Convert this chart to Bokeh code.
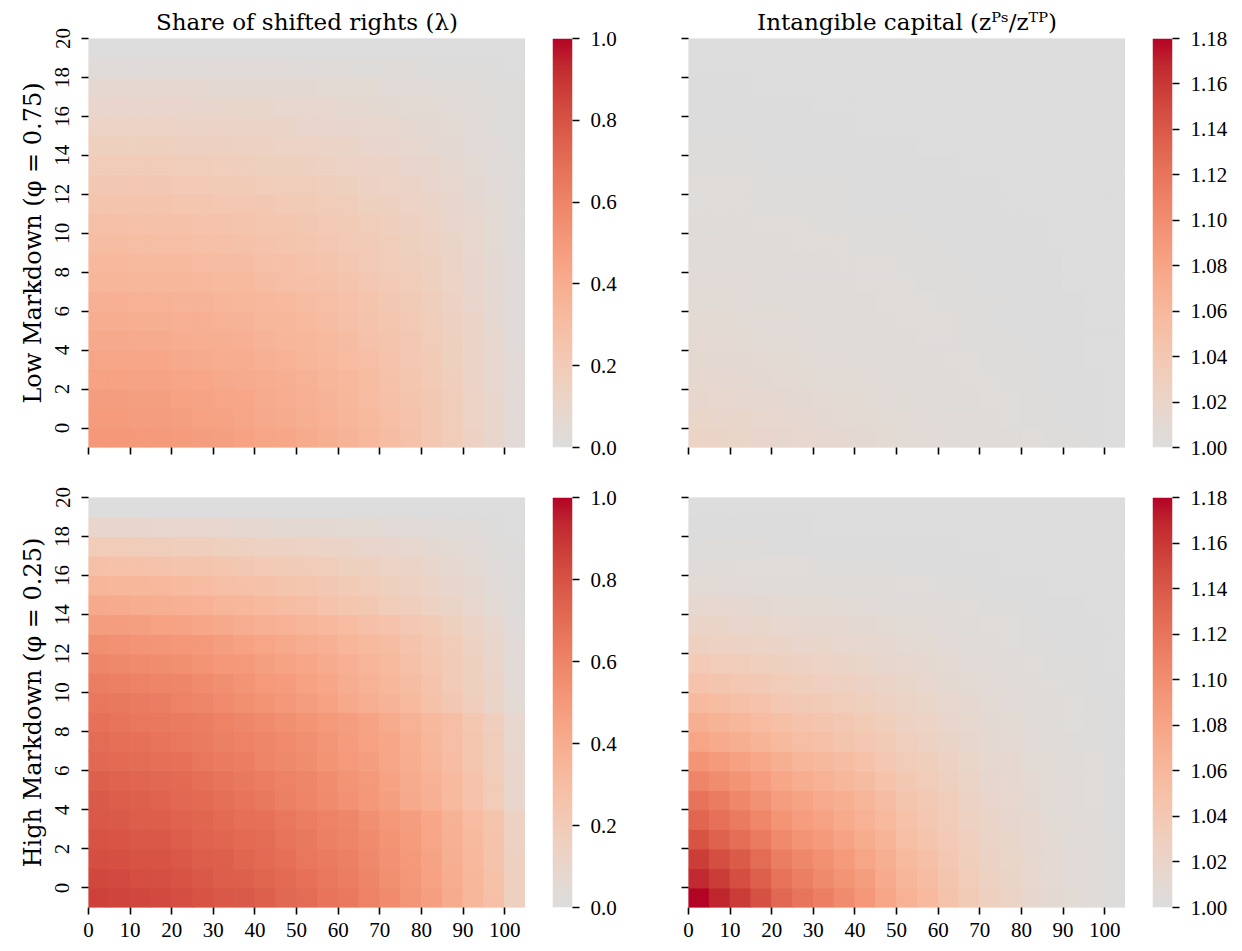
import numpy as np
from bokeh.plotting import figure
from bokeh.models import (LinearColorMapper, FixedTicker, PrintfTickFormatter,
                          ColumnDataSource, Range1d)
from bokeh.transform import transform
from bokeh.layouts import column, row
from bokeh.embed import file_html
from bokeh.resources import INLINE

# ---------------- grid (cell edges) and ticks ----------------
x_edges = [0, 5, 10, 15, 20, 25, 30, 35, 40, 45, 50, 55, 60, 65, 70, 75, 80, 85, 90, 95, 100, 105]
y_edges = [-1, 0, 1, 2, 3, 4, 5, 6, 7, 8, 9, 10, 11, 12, 13, 14, 15, 16, 17, 18, 19, 20]
x_ticks = [0, 10, 20, 30, 40, 50, 60, 70, 80, 90, 100]
y_ticks = [0, 2, 4, 6, 8, 10, 12, 14, 16, 18, 20]
lam_ticks = [0.0, 0.2, 0.4, 0.6, 0.8, 1.0]
z_ticks = [1.00, 1.02, 1.04, 1.06, 1.08, 1.10, 1.12, 1.14, 1.16, 1.18]

# ---------------- values (rows from bottom y=-1 to top y=19) ----------------
lam_low = [
    [.51,.51,.50,.50,.49,.48,.47,.46,.44,.43,.41,.39,.36,.33,.30,.27,.23,.19,.14,.09,.04],
    [.49,.49,.48,.48,.47,.46,.45,.44,.42,.41,.39,.37,.35,.32,.29,.26,.22,.18,.13,.09,.04],
    [.48,.48,.47,.47,.46,.45,.44,.43,.41,.40,.38,.36,.34,.31,.28,.25,.22,.18,.13,.09,.04],
    [.46,.46,.45,.45,.44,.43,.42,.41,.40,.39,.37,.35,.33,.30,.27,.24,.21,.17,.12,.08,.04],
    [.44,.44,.43,.43,.42,.41,.40,.40,.38,.37,.35,.33,.31,.29,.26,.23,.20,.16,.12,.08,.04],
    [.42,.42,.41,.41,.40,.39,.39,.38,.36,.35,.34,.32,.30,.27,.25,.22,.19,.16,.11,.08,.03],
    [.40,.40,.39,.39,.38,.38,.37,.36,.34,.34,.32,.30,.28,.26,.24,.21,.18,.15,.11,.07,.03],
    [.38,.38,.37,.37,.36,.36,.35,.34,.33,.32,.30,.29,.27,.25,.22,.20,.17,.14,.10,.07,.03],
    [.35,.35,.34,.34,.34,.33,.32,.32,.30,.29,.28,.27,.25,.23,.21,.19,.16,.13,.09,.06,.03],
    [.33,.33,.32,.32,.32,.31,.30,.30,.28,.28,.26,.25,.23,.21,.19,.17,.15,.12,.09,.06,.03],
    [.30,.30,.29,.29,.29,.28,.28,.27,.26,.25,.24,.23,.21,.20,.18,.16,.14,.11,.08,.05,.02],
    [.28,.28,.27,.27,.27,.26,.26,.25,.24,.24,.22,.21,.20,.18,.17,.15,.13,.10,.08,.05,.02],
    [.25,.25,.25,.25,.24,.24,.23,.23,.22,.21,.20,.19,.18,.16,.15,.13,.11,.09,.07,.05,.02],
    [.22,.22,.22,.22,.21,.21,.20,.20,.19,.18,.18,.17,.16,.14,.13,.12,.10,.08,.06,.04,.02],
    [.19,.19,.19,.19,.18,.18,.17,.17,.16,.16,.15,.14,.13,.12,.11,.10,.09,.07,.05,.03,.02],
    [.16,.16,.16,.16,.15,.15,.15,.14,.14,.13,.13,.12,.11,.10,.09,.08,.07,.06,.04,.03,.01],
    [.13,.13,.13,.13,.12,.12,.12,.12,.11,.11,.10,.10,.09,.08,.08,.07,.06,.05,.04,.02,.01],
    [.10,.10,.10,.10,.10,.09,.09,.09,.09,.08,.08,.08,.07,.07,.06,.05,.05,.04,.03,.02,.01],
    [.07,.07,.07,.07,.07,.07,.06,.06,.06,.06,.06,.05,.05,.05,.04,.04,.03,.03,.02,.01,.01],
    [.03,.03,.03,.03,.03,.03,.03,.03,.03,.03,.02,.02,.02,.02,.02,.02,.01,.01,.01,.01,.00],
    [.00,.00,.00,.00,.00,.00,.00,.00,.00,.00,.00,.00,.00,.00,.00,.00,.00,.00,.00,.00,.00],
]

lam_high = [
    [.86,.85,.84,.83,.82,.80,.78,.77,.75,.72,.70,.67,.65,.61,.57,.52,.47,.41,.34,.28,.15],
    [.84,.83,.82,.81,.80,.78,.76,.75,.73,.71,.68,.66,.63,.60,.55,.51,.46,.40,.34,.27,.15],
    [.82,.81,.80,.80,.78,.76,.75,.73,.71,.69,.66,.64,.62,.58,.54,.50,.45,.39,.33,.26,.15],
    [.80,.79,.78,.78,.76,.74,.73,.71,.70,.67,.65,.62,.60,.57,.53,.49,.44,.38,.32,.26,.14],
    [.78,.77,.76,.76,.74,.73,.71,.69,.68,.66,.63,.61,.59,.55,.51,.48,.43,.37,.31,.25,.14],
    [.77,.76,.75,.74,.72,.71,.69,.67,.65,.62,.60,.57,.54,.51,.47,.42,.38,.32,.26,.19,.09],
    [.75,.74,.73,.72,.71,.69,.67,.65,.63,.61,.59,.56,.53,.50,.46,.41,.37,.32,.26,.19,.09],
    [.72,.71,.70,.69,.68,.66,.64,.63,.60,.58,.56,.53,.50,.48,.44,.40,.35,.30,.24,.18,.09],
    [.70,.69,.68,.67,.66,.64,.62,.61,.59,.57,.55,.52,.49,.46,.43,.39,.34,.29,.24,.18,.08],
    [.68,.67,.66,.65,.64,.63,.61,.59,.57,.55,.53,.50,.48,.45,.41,.37,.33,.29,.23,.17,.08],
    [.66,.65,.64,.63,.61,.59,.57,.55,.53,.51,.48,.46,.42,.39,.36,.32,.27,.22,.17,.11,.05],
    [.63,.62,.61,.60,.59,.57,.55,.53,.50,.49,.46,.43,.40,.37,.34,.30,.26,.21,.16,.11,.04],
    [.59,.58,.57,.56,.55,.53,.51,.50,.47,.45,.43,.41,.38,.35,.32,.28,.24,.20,.15,.10,.04],
    [.55,.54,.53,.52,.51,.50,.48,.46,.44,.42,.40,.38,.35,.32,.30,.26,.23,.19,.14,.09,.04],
    [.48,.48,.47,.46,.45,.43,.42,.40,.38,.37,.35,.33,.31,.28,.26,.23,.20,.16,.12,.08,.03],
    [.42,.41,.40,.39,.38,.37,.35,.34,.32,.30,.29,.26,.24,.22,.19,.17,.14,.11,.08,.05,.02],
    [.35,.34,.34,.33,.32,.31,.29,.28,.27,.25,.24,.22,.20,.18,.16,.14,.12,.09,.07,.04,.02],
    [.28,.27,.27,.26,.25,.25,.24,.22,.21,.20,.19,.18,.16,.15,.13,.11,.09,.07,.05,.03,.01],
    [.19,.19,.18,.18,.17,.17,.16,.15,.14,.14,.13,.12,.11,.10,.09,.08,.06,.05,.04,.02,.01],
    [.09,.09,.09,.08,.08,.08,.08,.07,.07,.06,.06,.06,.05,.05,.04,.04,.03,.02,.02,.01,.00],
    [.00,.00,.00,.00,.00,.00,.00,.00,.00,.00,.00,.00,.00,.00,.00,.00,.00,.00,.00,.00,.00],
]

z_low = [
    [1.022,1.021,1.019,1.018,1.016,1.015,1.013,1.012,1.011,1.009,1.008,1.007,1.006,1.005,1.004,1.004,1.003,1.002,1.002,1.001,1.000],
    [1.019,1.018,1.017,1.015,1.014,1.013,1.011,1.010,1.009,1.008,1.007,1.006,1.005,1.005,1.004,1.003,1.002,1.002,1.001,1.001,1.000],
    [1.016,1.015,1.014,1.013,1.012,1.011,1.010,1.009,1.008,1.007,1.006,1.005,1.004,1.004,1.003,1.003,1.002,1.002,1.001,1.001,1.000],
    [1.014,1.013,1.012,1.011,1.010,1.009,1.008,1.008,1.007,1.006,1.005,1.005,1.004,1.003,1.003,1.002,1.002,1.001,1.001,1.001,1.000],
    [1.012,1.011,1.011,1.010,1.009,1.008,1.007,1.006,1.006,1.005,1.005,1.004,1.003,1.003,1.002,1.002,1.002,1.001,1.001,1.000,1.000],
    [1.010,1.010,1.009,1.008,1.007,1.007,1.006,1.005,1.005,1.004,1.004,1.003,1.003,1.002,1.002,1.002,1.001,1.001,1.001,1.000,1.000],
    [1.009,1.009,1.008,1.007,1.007,1.006,1.005,1.005,1.004,1.004,1.003,1.003,1.003,1.002,1.002,1.001,1.001,1.001,1.001,1.000,1.000],
    [1.008,1.008,1.007,1.006,1.006,1.005,1.005,1.004,1.004,1.003,1.003,1.003,1.002,1.002,1.002,1.001,1.001,1.001,1.001,1.000,1.000],
    [1.007,1.007,1.006,1.006,1.005,1.005,1.004,1.004,1.003,1.003,1.003,1.002,1.002,1.002,1.001,1.001,1.001,1.001,1.000,1.000,1.000],
    [1.006,1.006,1.005,1.005,1.004,1.004,1.004,1.003,1.003,1.003,1.002,1.002,1.002,1.001,1.001,1.001,1.001,1.001,1.000,1.000,1.000],
    [1.005,1.005,1.004,1.004,1.004,1.003,1.003,1.003,1.002,1.002,1.002,1.002,1.001,1.001,1.001,1.001,1.001,1.000,1.000,1.000,1.000],
    [1.004,1.004,1.004,1.003,1.003,1.003,1.002,1.002,1.002,1.002,1.002,1.001,1.001,1.001,1.001,1.001,1.001,1.000,1.000,1.000,1.000],
    [1.003,1.003,1.003,1.002,1.002,1.002,1.002,1.002,1.001,1.001,1.001,1.001,1.001,1.001,1.001,1.000,1.000,1.000,1.000,1.000,1.000],
    [1.003,1.003,1.003,1.002,1.002,1.002,1.002,1.002,1.001,1.001,1.001,1.001,1.001,1.001,1.001,1.000,1.000,1.000,1.000,1.000,1.000],
    [1.002,1.002,1.002,1.002,1.001,1.001,1.001,1.001,1.001,1.001,1.001,1.001,1.001,1.000,1.000,1.000,1.000,1.000,1.000,1.000,1.000],
    [1.002,1.002,1.002,1.001,1.001,1.001,1.001,1.001,1.001,1.001,1.001,1.000,1.000,1.000,1.000,1.000,1.000,1.000,1.000,1.000,1.000],
    [1.001,1.001,1.001,1.001,1.001,1.001,1.001,1.001,1.000,1.000,1.000,1.000,1.000,1.000,1.000,1.000,1.000,1.000,1.000,1.000,1.000],
    [1.001,1.001,1.001,1.001,1.001,1.001,1.000,1.000,1.000,1.000,1.000,1.000,1.000,1.000,1.000,1.000,1.000,1.000,1.000,1.000,1.000],
    [1.001,1.001,1.001,1.000,1.000,1.000,1.000,1.000,1.000,1.000,1.000,1.000,1.000,1.000,1.000,1.000,1.000,1.000,1.000,1.000,1.000],
    [1.000,1.000,1.000,1.000,1.000,1.000,1.000,1.000,1.000,1.000,1.000,1.000,1.000,1.000,1.000,1.000,1.000,1.000,1.000,1.000,1.000],
    [1.000,1.000,1.000,1.000,1.000,1.000,1.000,1.000,1.000,1.000,1.000,1.000,1.000,1.000,1.000,1.000,1.000,1.000,1.000,1.000,1.000],
]

z_high = [
    [1.180,1.169,1.158,1.145,1.130,1.120,1.112,1.102,1.092,1.080,1.067,1.058,1.047,1.036,1.027,1.022,1.016,1.011,1.008,1.005,1.002],
    [1.168,1.158,1.147,1.135,1.121,1.112,1.104,1.095,1.086,1.075,1.063,1.054,1.044,1.034,1.025,1.021,1.015,1.010,1.007,1.005,1.002],
    [1.157,1.147,1.138,1.126,1.113,1.105,1.098,1.089,1.080,1.070,1.058,1.051,1.041,1.031,1.024,1.019,1.014,1.010,1.007,1.004,1.002],
    [1.143,1.134,1.125,1.115,1.103,1.095,1.089,1.081,1.073,1.064,1.053,1.046,1.037,1.029,1.021,1.017,1.013,1.009,1.006,1.004,1.002],
    [1.131,1.123,1.115,1.106,1.095,1.087,1.082,1.074,1.067,1.058,1.049,1.042,1.034,1.026,1.020,1.016,1.012,1.008,1.006,1.004,1.001],
    [1.121,1.114,1.106,1.097,1.087,1.081,1.075,1.069,1.062,1.054,1.045,1.039,1.032,1.024,1.018,1.015,1.011,1.007,1.005,1.003,1.001],
    [1.108,1.101,1.095,1.087,1.078,1.072,1.067,1.061,1.055,1.048,1.040,1.035,1.028,1.022,1.016,1.013,1.010,1.007,1.005,1.003,1.001],
    [1.095,1.089,1.083,1.077,1.069,1.063,1.059,1.054,1.049,1.042,1.035,1.031,1.025,1.019,1.014,1.012,1.008,1.006,1.004,1.003,1.001],
    [1.080,1.075,1.070,1.064,1.058,1.053,1.050,1.045,1.041,1.036,1.030,1.026,1.021,1.016,1.012,1.010,1.007,1.005,1.004,1.002,1.001],
    [1.070,1.066,1.061,1.056,1.051,1.047,1.044,1.040,1.036,1.031,1.026,1.023,1.018,1.014,1.011,1.009,1.006,1.004,1.003,1.002,1.001],
    [1.058,1.054,1.051,1.047,1.042,1.039,1.036,1.033,1.030,1.026,1.022,1.019,1.015,1.012,1.009,1.007,1.005,1.004,1.003,1.002,1.001],
    [1.047,1.044,1.041,1.038,1.034,1.031,1.029,1.027,1.024,1.021,1.017,1.015,1.012,1.009,1.007,1.006,1.004,1.003,1.002,1.001,1.001],
    [1.037,1.035,1.033,1.030,1.027,1.025,1.023,1.021,1.019,1.016,1.014,1.012,1.010,1.007,1.006,1.005,1.003,1.002,1.002,1.001,1.000],
    [1.027,1.025,1.024,1.022,1.020,1.018,1.017,1.015,1.014,1.012,1.010,1.009,1.007,1.005,1.004,1.003,1.002,1.002,1.001,1.001,1.000],
    [1.021,1.020,1.018,1.017,1.015,1.014,1.013,1.012,1.011,1.009,1.008,1.007,1.005,1.004,1.003,1.003,1.002,1.001,1.001,1.001,1.000],
    [1.014,1.013,1.012,1.011,1.010,1.009,1.009,1.008,1.007,1.006,1.005,1.005,1.004,1.003,1.002,1.002,1.001,1.001,1.001,1.000,1.000],
    [1.008,1.007,1.007,1.006,1.006,1.005,1.005,1.004,1.004,1.004,1.003,1.003,1.002,1.002,1.001,1.001,1.001,1.000,1.000,1.000,1.000],
    [1.004,1.004,1.003,1.003,1.003,1.003,1.002,1.002,1.002,1.002,1.001,1.001,1.001,1.001,1.001,1.000,1.000,1.000,1.000,1.000,1.000],
    [1.002,1.002,1.002,1.002,1.001,1.001,1.001,1.001,1.001,1.001,1.001,1.001,1.001,1.000,1.000,1.000,1.000,1.000,1.000,1.000,1.000],
    [1.001,1.001,1.001,1.001,1.001,1.001,1.000,1.000,1.000,1.000,1.000,1.000,1.000,1.000,1.000,1.000,1.000,1.000,1.000,1.000,1.000],
    [1.000,1.000,1.000,1.000,1.000,1.000,1.000,1.000,1.000,1.000,1.000,1.000,1.000,1.000,1.000,1.000,1.000,1.000,1.000,1.000,1.000],
]

# ---------------- colour map: upper half of "coolwarm" ----------------
cw_r = [0.865395197, 0.897787179, 0.924127593, 0.944468518, 0.958852946, 0.96732803, 0.969954137,
        0.966811177, 0.958003065, 0.943660866, 0.923944917, 0.89904617, 0.869186849, 0.834620542,
        0.795631745, 0.752534934, 0.705673158]
cw_g = [0.86541021, 0.848937047, 0.827384882, 0.800927443, 0.769767752, 0.734132809, 0.694266682,
        0.650421156, 0.602842431, 0.551750968, 0.49730856, 0.439559467, 0.378313092, 0.312874446,
        0.24128379, 0.157246067, 0.01555616]
cw_b = [0.865395561, 0.820880546, 0.774508472, 0.726736146, 0.678007945, 0.628751763, 0.579375448,
        0.530263762, 0.481775914, 0.434243684, 0.387970225, 0.343229596, 0.300267182, 0.259301199,
        0.220525627, 0.184115123, 0.150232812]
_a = np.linspace(0, 1, len(cw_r))
_t = np.linspace(0, 1, 256)
PALETTE = ["#%02x%02x%02x" % (int(round(255 * np.interp(t, _a, cw_r))),
                              int(round(255 * np.interp(t, _a, cw_g))),
                              int(round(255 * np.interp(t, _a, cw_b)))) for t in _t]

TEXT_FONT = "DejaVu Serif"
TICK_FONT = "Liberation Serif"
TICK_FS = "21px"

FRAME_W = 437
CB_W = 115      # colour-bar figure: 27 gap + 20 bar + 68 labels


def style_axis(ax, standoff):
    ax.axis_line_color = None
    ax.major_tick_line_color = "black"
    ax.major_tick_line_width = 1.6
    ax.major_tick_out = 7
    ax.major_tick_in = 0
    ax.minor_tick_line_color = None
    ax.major_label_text_font = TICK_FONT
    ax.major_label_text_font_size = TICK_FS
    ax.major_label_text_color = "black"
    ax.major_label_standoff = standoff


def hide_labels(ax):
    ax.major_label_text_color = None
    ax.major_label_text_font_size = "1px"
    ax.major_label_standoff = 0


def panel(mat, low, high, h, mb_left, mb_top, mb_bottom, title, ylabel, show_xlabels, show_ylabels):
    mapper = LinearColorMapper(palette=PALETTE, low=low, high=high)
    L, R, B, T, V = [], [], [], [], []
    for j, rowvals in enumerate(mat):
        for i, v in enumerate(rowvals):
            L.append(x_edges[i]); R.append(x_edges[i + 1])
            B.append(y_edges[j]); T.append(y_edges[j + 1])
            V.append(v)
    src = ColumnDataSource(dict(left=L, right=R, bottom=B, top=T, val=V))

    p = figure(width=mb_left + FRAME_W, height=h, output_backend="svg", toolbar_location=None,
               x_range=Range1d(x_edges[0], x_edges[-1]), y_range=Range1d(y_edges[0], y_edges[-1]),
               min_border_left=mb_left, min_border_right=0, min_border_top=mb_top,
               min_border_bottom=mb_bottom)
    p.quad(left="left", right="right", bottom="bottom", top="top", source=src,
           fill_color=transform("val", mapper), line_color=transform("val", mapper),
           line_width=1.0)

    if title:
        p.title.text = title
        p.title.align = "center"
        p.title.text_font = TEXT_FONT
        p.title.text_font_size = "23px"
        p.title.text_font_style = "normal"
        p.title.text_color = "black"
        p.title.standoff = 8

    p.xaxis.ticker = FixedTicker(ticks=x_ticks)
    p.yaxis.ticker = FixedTicker(ticks=y_ticks)
    style_axis(p.xaxis[0], 8)
    style_axis(p.yaxis[0], 12)
    p.yaxis.major_label_orientation = "vertical"
    if not show_xlabels:
        hide_labels(p.xaxis[0])
    if not show_ylabels:
        hide_labels(p.yaxis[0])
    if ylabel:
        p.yaxis.axis_label = ylabel
        p.yaxis.axis_label_text_font = TEXT_FONT
        p.yaxis.axis_label_text_font_size = "24px"
        p.yaxis.axis_label_text_font_style = "normal"
        p.yaxis.axis_label_text_color = "black"
        p.yaxis.axis_label_standoff = 6
    p.xgrid.grid_line_color = None
    p.ygrid.grid_line_color = None
    p.outline_line_color = None
    return p


def colorbar(low, high, ticks, fmt, h, mb_top, mb_bottom):
    n = len(PALETTE)
    mapper = LinearColorMapper(palette=PALETTE, low=low, high=high)
    levels = np.array([low + (high - low) * (k + 0.5) / n for k in range(n)]).reshape(n, 1)
    c = figure(width=CB_W, height=h, output_backend="svg", toolbar_location=None,
               x_range=Range1d(0, 1), y_range=Range1d(low, high),
               x_axis_location=None, y_axis_location="right",
               min_border_left=27, min_border_right=68, min_border_top=mb_top,
               min_border_bottom=mb_bottom)
    c.image(image=[levels], x=0, y=low, dw=1, dh=high - low, color_mapper=mapper)
    c.yaxis.ticker = FixedTicker(ticks=ticks)
    c.yaxis.formatter = PrintfTickFormatter(format=fmt)
    style_axis(c.yaxis[0], 11)
    c.xgrid.grid_line_color = None
    c.ygrid.grid_line_color = None
    c.outline_line_color = None
    return c


H_TOP, TOP_T, TOP_B = 472, 38, 25
H_BOT, BOT_T, BOT_B = 477, 25, 42

p1 = panel(lam_low, 0.0, 1.0, H_TOP, 88, TOP_T, TOP_B,
           "Share of shifted rights (λ)", "Low Markdown (φ = 0.75)", False, True)
c1 = colorbar(0.0, 1.0, lam_ticks, "%.1f", H_TOP, TOP_T, TOP_B)
p2 = panel(z_low, 1.0, 1.18, H_TOP, 48, TOP_T, TOP_B,
           "Intangible capital (zᴾˢ/zᵀᴾ)", None, False, False)
c2 = colorbar(1.0, 1.18, z_ticks, "%.2f", H_TOP, TOP_T, TOP_B)

p3 = panel(lam_high, 0.0, 1.0, H_BOT, 88, BOT_T, BOT_B,
           None, "High Markdown (φ = 0.25)", True, True)
c3 = colorbar(0.0, 1.0, lam_ticks, "%.1f", H_BOT, BOT_T, BOT_B)
p4 = panel(z_high, 1.0, 1.18, H_BOT, 48, BOT_T, BOT_B,
           None, None, True, False)
c4 = colorbar(1.0, 1.18, z_ticks, "%.2f", H_BOT, BOT_T, BOT_B)

layout = column(row(p1, c1, p2, c2), row(p3, c3, p4, c4))
open("out.html", "w").write(file_html(layout, INLINE, "plot"))
